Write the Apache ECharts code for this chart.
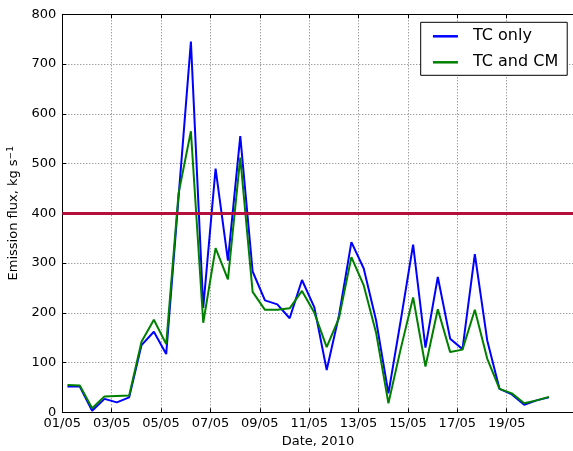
<!DOCTYPE html>
<html>
<head>
<meta charset="utf-8">
<script src="https://cdn.jsdelivr.net/npm/echarts@6/dist/echarts.min.js"></script>
<style>
  html, body { margin: 0; padding: 0; overflow: hidden; background: #fff; }
  #chart { width: 580px; height: 451px; }
</style>
</head>
<body>
<div id="chart"></div>
<script>
// Sample times (UTC), twice daily
const times = [
  '2010-05-01T05:00Z', '2010-05-01T17:00Z', '2010-05-02T05:00Z', '2010-05-02T17:00Z',
  '2010-05-03T05:00Z', '2010-05-03T17:00Z', '2010-05-04T05:00Z', '2010-05-04T17:00Z',
  '2010-05-05T05:00Z', '2010-05-05T17:00Z', '2010-05-06T05:00Z', '2010-05-06T17:00Z',
  '2010-05-07T05:00Z', '2010-05-07T17:00Z', '2010-05-08T05:00Z', '2010-05-08T17:00Z',
  '2010-05-09T05:00Z', '2010-05-09T17:00Z', '2010-05-10T05:00Z', '2010-05-10T17:00Z',
  '2010-05-11T05:00Z', '2010-05-11T17:00Z', '2010-05-12T05:00Z', '2010-05-12T17:00Z',
  '2010-05-13T05:00Z', '2010-05-13T17:00Z', '2010-05-14T05:00Z', '2010-05-14T17:00Z',
  '2010-05-15T05:00Z', '2010-05-15T17:00Z', '2010-05-16T05:00Z', '2010-05-16T17:00Z',
  '2010-05-17T05:00Z', '2010-05-17T17:00Z', '2010-05-18T05:00Z', '2010-05-18T17:00Z',
  '2010-05-19T05:00Z', '2010-05-19T17:00Z', '2010-05-20T05:00Z', '2010-05-20T17:00Z'
];

// Emission flux, kg s^-1
const tcOnly = [
  52, 52, 3, 27, 20, 30, 135, 162, 117, 432,
  745, 210, 490, 305, 555, 283, 225, 217, 189, 266,
  211, 85, 195, 342, 289, 185, 38, 185, 337, 130,
  272, 148, 127, 318, 145, 47, 36, 15, 24, 30
];
const tcAndCm = [
  55, 54, 8, 32, 33, 34, 142, 186, 137, 440,
  565, 180, 330, 267, 512, 242, 206, 206, 209, 244,
  200, 131, 190, 312, 255, 160, 18, 128, 231, 92,
  207, 121, 126, 206, 108, 47, 38, 18, 24, 31
];

// Date ticks and their labels
const tickDates = [
  '2010-05-01T00:00Z', '2010-05-03T00:00Z', '2010-05-05T00:00Z', '2010-05-07T00:00Z',
  '2010-05-09T00:00Z', '2010-05-11T00:00Z', '2010-05-13T00:00Z', '2010-05-15T00:00Z',
  '2010-05-17T00:00Z', '2010-05-19T00:00Z'
];
const tickLabels = ['01/05', '03/05', '05/05', '07/05', '09/05', '11/05', '13/05', '15/05', '17/05', '19/05'];

const threshold = 400;

const DAY = 86400000;
const FONT = 'DejaVu Sans';
const xStart = Date.parse('2010-05-01T00:00Z');
const xEnd = Date.parse('2010-05-21T17:00Z');
const tickValues = tickDates.map(d => Date.parse(d));
const xs = times.map(t => Date.parse(t));

const labelFor = v => {
  const i = tickValues.indexOf(v);
  return i >= 0 ? tickLabels[i] : '';
};

const gridLine = { show: true, lineStyle: { color: '#777', width: 1, type: [1, 2] } };

const chart = echarts.init(document.getElementById('chart'), null, { renderer: 'canvas' });

chart.setOption({
  animation: false,
  backgroundColor: '#fff',
  textStyle: { fontFamily: FONT },
  grid: { left: 62.3, top: 14.3, width: 511.3, height: 398, outerBoundsMode: 'none', containLabel: false },
  legend: {
    orient: 'vertical',
    left: 420.7,
    top: 22.3,
    itemWidth: 25,
    itemHeight: 14,
    itemGap: 10,
    padding: [6, 9, 5, 11],
    borderColor: '#000',
    borderWidth: 1,
    borderRadius: 0,
    backgroundColor: '#fff',
    itemStyle: { opacity: 0 },
    lineStyle: { width: 2.5 },
    textStyle: { fontFamily: FONT, fontSize: 16, color: '#000', padding: [0, 0, 0, 10] },
    data: ['TC only', 'TC and CM']
  },
  xAxis: [
    {
      type: 'value',
      position: 'bottom',
      min: xStart,
      max: xEnd,
      interval: 2 * DAY,
      name: 'Date, 2010',
      nameLocation: 'middle',
      nameGap: 22,
      nameTextStyle: { fontFamily: FONT, fontSize: 13, color: '#000' },
      axisLine: { show: true, lineStyle: { color: '#000', width: 1 } },
      axisTick: { show: true, inside: true, length: 4, customValues: tickValues, lineStyle: { color: '#000' } },
      axisLabel: { customValues: tickValues, formatter: labelFor, fontFamily: FONT, fontSize: 13, color: '#000', margin: 5 },
      splitLine: Object.assign({ customValues: tickValues }, gridLine)
    },
    {
      type: 'value',
      position: 'top',
      min: xStart,
      max: xEnd,
      interval: 2 * DAY,
      axisLine: { show: true, lineStyle: { color: '#000', width: 1 } },
      axisTick: { show: true, inside: true, length: 4, customValues: tickValues, lineStyle: { color: '#000' } },
      axisLabel: { show: false },
      splitLine: { show: false }
    }
  ],
  yAxis: {
    type: 'value',
    min: 0,
    max: 800,
    interval: 100,
    name: 'Emission flux, kg s{sup|−1}',
    nameLocation: 'middle',
    nameGap: 38,
    nameRotate: 90,
    nameTextStyle: {
      fontFamily: FONT, fontSize: 13, color: '#000',
      rich: { sup: { fontFamily: FONT, fontSize: 9, color: '#000', padding: [0, 0, 7, 0] } }
    },
    axisLine: { show: true, lineStyle: { color: '#000', width: 1 } },
    axisTick: { show: true, inside: true, length: 4, lineStyle: { color: '#000' } },
    axisLabel: { fontFamily: FONT, fontSize: 13, color: '#000', margin: 6 },
    splitLine: gridLine
  },
  series: [
    {
      name: 'TC only',
      type: 'line',
      xAxisIndex: 0,
      data: xs.map((x, i) => [x, tcOnly[i]]),
      symbol: 'none',
      color: '#0000ff',
      lineStyle: { color: '#0000ff', width: 2 },
      markLine: {
        silent: true,
        symbol: 'none',
        label: { show: false },
        lineStyle: { color: '#b5103c', width: 3, type: 'solid' },
        data: [{ yAxis: threshold }]
      }
    },
    {
      name: 'TC and CM',
      type: 'line',
      xAxisIndex: 0,
      data: xs.map((x, i) => [x, tcAndCm[i]]),
      symbol: 'none',
      color: '#008000',
      lineStyle: { color: '#008000', width: 2 }
    }
  ]
});
</script>
</body>
</html>
